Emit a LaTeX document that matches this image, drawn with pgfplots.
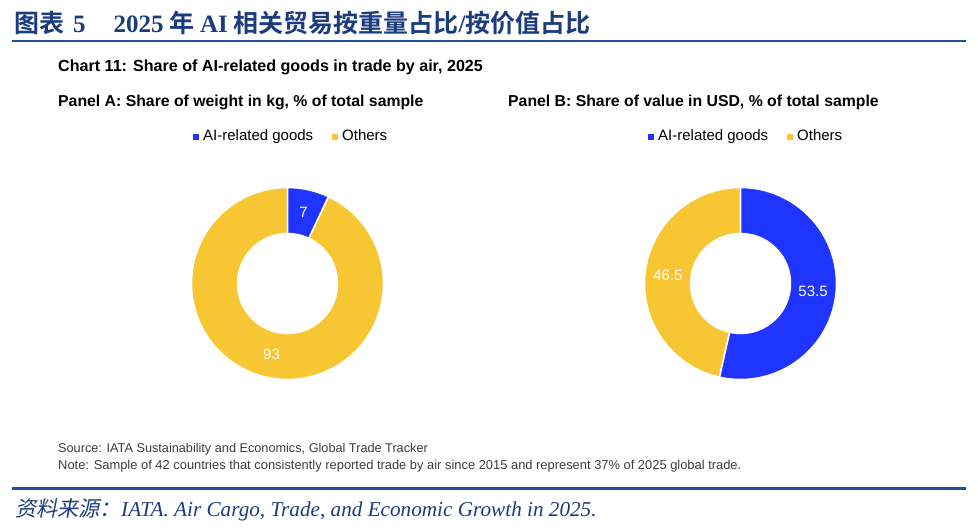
\documentclass[border=0pt]{standalone}
\usepackage{fontspec}
\setmainfont{Liberation Sans}
\newfontfamily\cjkb[BoldFont={Noto Sans CJK SC Bold}]{Noto Sans CJK SC}
\newfontfamily\cjkit[FakeSlant=0.2]{Noto Sans CJK SC}
\newfontfamily\serif{Liberation Serif}
\usepackage{pgfplots}
\usepackage{pgfplotstable}
\pgfplotsset{compat=1.18}
\definecolor{aiblue}{RGB}{32,52,255}
\definecolor{othyel}{RGB}{248,198,50}
\definecolor{navy}{RGB}{28,60,128}
\definecolor{rulec}{RGB}{40,80,150}
\definecolor{srcgray}{RGB}{60,60,60}

\pgfplotstableread{
label value
AI 7
Others 93
}\tabA
\pgfplotstableread{
label value
AI 53.5
Others 46.5
}\tabB

\begin{document}
\begin{tikzpicture}[x=1pt,y=1pt]
\path[use as bounding box] (0,0) rectangle (978,-530);
% header
\node[anchor=base west,inner sep=0,text=navy] at (14,-32)
 {\cjkb\bfseries\fontsize{25}{28}\selectfont 图表\hspace{9pt}{\serif\bfseries 5}\hspace{28pt}{\serif\bfseries 2025} 年 {\serif\bfseries AI} 相关贸易按重量占比{\serif\bfseries /}按价值占比};
\fill[rulec] (12,-40) rectangle (966,-42);
\node[anchor=base west,inner sep=0] at (58,-71) {\fontsize{16.1}{18}\selectfont\bfseries Chart 11: Share of AI-related goods in trade by air, 2025};
\node[anchor=base west,inner sep=0] at (58,-106) {\fontsize{15.8}{18}\selectfont\bfseries Panel A: Share of weight in kg, \% of total sample};
\node[anchor=base west,inner sep=0] at (508,-106) {\fontsize{15.8}{18}\selectfont\bfseries Panel B: Share of value in USD, \% of total sample};
% legends
\foreach \lx in {193,648}{
 \fill[aiblue] (\lx,-133.5) rectangle ++(6,-6);
 \node[anchor=base west,inner sep=0] at (\lx+10,-140) {\fontsize{15}{17}\selectfont AI-related goods};
 \fill[othyel] (\lx+139,-133.5) rectangle ++(6,-6);
 \node[anchor=base west,inner sep=0] at (\lx+149,-140) {\fontsize{15}{17}\selectfont Others};
}
% angles
\pgfplotstablegetelem{0}{value}\of\tabA \pgfmathsetmacro\vAa{\pgfplotsretval}
\pgfplotstablegetelem{1}{value}\of\tabA \pgfmathsetmacro\vAb{\pgfplotsretval}
\pgfplotstablegetelem{0}{value}\of\tabB \pgfmathsetmacro\vBa{\pgfplotsretval}
\pgfplotstablegetelem{1}{value}\of\tabB \pgfmathsetmacro\vBb{\pgfplotsretval}
\pgfmathsetmacro\Aone{90-3.6*\vAa}
\pgfmathsetmacro\Atwo{\Aone-3.6*\vAb}
\pgfmathsetmacro\Bone{90-3.6*\vBa}
\pgfmathsetmacro\Btwo{\Bone-3.6*\vBb}
\pgfmathsetmacro\Amida{(90+\Aone)/2}
\pgfmathsetmacro\Amidb{(\Aone+\Atwo)/2}
\pgfmathsetmacro\Bmida{(90+\Bone)/2}
\pgfmathsetmacro\Bmidb{(\Bone+\Btwo)/2}
\pgfplotsset{donut/.style={hide axis, scale only axis, width=192pt, height=192pt,
  xmin=-1,xmax=1,ymin=-1,ymax=1, clip=false, anchor=origin},
  /pgf/number format/assume math mode=true}
\begin{axis}[donut, at={(287.5pt,-283.5pt)}]
 \fill[othyel,draw=white,line width=1.5pt] ([shift={(\Aone:96pt)}]axis cs:0,0) arc[start angle=\Aone,end angle=\Atwo,radius=96pt]
   -- ([shift={(\Atwo:50pt)}]axis cs:0,0) arc[start angle=\Atwo,end angle=\Aone,radius=50pt] -- cycle;
 \fill[aiblue,draw=white,line width=1.5pt] ([shift={(90:96pt)}]axis cs:0,0) arc[start angle=90,end angle=\Aone,radius=96pt]
   -- ([shift={(\Aone:50pt)}]axis cs:0,0) arc[start angle=\Aone,end angle=90,radius=50pt] -- cycle;
 \node[text=white,font=\fontsize{15}{17}\selectfont] at ([shift={(\Amida:73pt)}]axis cs:0,0) {\pgfmathprintnumber{\vAa}};
 \node[text=white,font=\fontsize{15}{17}\selectfont] at ([shift={(\Amidb:73pt)}]axis cs:0,0) {\pgfmathprintnumber{\vAb}};
\end{axis}
\begin{axis}[donut, at={(740.5pt,-283.5pt)}]
 \fill[othyel,draw=white,line width=1.5pt] ([shift={(\Bone:96pt)}]axis cs:0,0) arc[start angle=\Bone,end angle=\Btwo,radius=96pt]
   -- ([shift={(\Btwo:50pt)}]axis cs:0,0) arc[start angle=\Btwo,end angle=\Bone,radius=50pt] -- cycle;
 \fill[aiblue,draw=white,line width=1.5pt] ([shift={(90:96pt)}]axis cs:0,0) arc[start angle=90,end angle=\Bone,radius=96pt]
   -- ([shift={(\Bone:50pt)}]axis cs:0,0) arc[start angle=\Bone,end angle=90,radius=50pt] -- cycle;
 \node[text=white,font=\fontsize{15}{17}\selectfont] at ([shift={(\Bmida:73pt)}]axis cs:0,0) {\pgfmathprintnumber[fixed,precision=1]{\vBa}};
 \node[text=white,font=\fontsize{15}{17}\selectfont] at ([shift={(\Bmidb:73pt)}]axis cs:0,0) {\pgfmathprintnumber[fixed,precision=1]{\vBb}};
\end{axis}
% source
\node[anchor=base west,inner sep=0,text=srcgray] at (58,-452) {\fontsize{12.7}{14}\selectfont Source: IATA Sustainability and Economics, Global Trade Tracker};
\node[anchor=base west,inner sep=0,text=srcgray] at (58,-469) {\fontsize{12.9}{14}\selectfont Note: Sample of 42 countries that consistently reported trade by air since 2015 and represent 37\% of 2025 global trade.};
\fill[rulec] (12,-487) rectangle (966,-489.5);
\node[anchor=base west,inner sep=0,text=navy] at (15,-516)
 {\fontsize{21.2}{24}\selectfont{\cjkit 资料来源：}{\serif\itshape IATA. Air Cargo, Trade, and Economic Growth in 2025.}};
\end{tikzpicture}
\end{document}
